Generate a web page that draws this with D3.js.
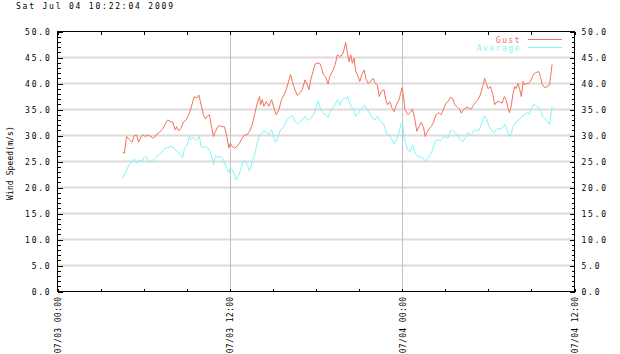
<!DOCTYPE html>
<html><head><meta charset="utf-8">
<script src="https://cdn.jsdelivr.net/npm/d3@7/dist/d3.min.js"></script>
<style>body{margin:0;background:#fff}svg{display:block}</style>
</head><body><svg id="c" width="620" height="354"></svg>
<script>
const chartTitle = "Sat Jul 04 10:22:04 2009";
const yAxisLabel = "Wind Speed(m/s)";
const seriesNames = ["Gust", "Average"];
const seriesColors = ["#f6705c", "#80f6f6"];
const yTickValues = [0, 5, 10, 15, 20, 25, 30, 35, 40, 45, 50];
const xTickHours = [0, 12, 24, 36];

// hours after 07/03 00:00
const gustHours = [4.53,4.65,4.81,5.00,5.19,5.35,5.51,5.65,5.81,5.98,6.12,6.28,6.51,6.67,6.86,7.09,7.33,7.51,7.67,7.84,8.02,8.19,8.30,8.44,8.60,8.77,8.95,9.14,9.30,9.42,9.54,9.70,9.84,10.00,10.16,10.30,10.47,10.58,10.70,10.86,11.00,11.16,11.28,11.47,11.63,11.79,11.93,12.02,12.16,12.33,12.49,12.67,12.86,13.02,13.19,13.37,13.56,13.72,13.88,14.07,
14.14,14.26,14.37,14.53,14.72,14.91,15.07,15.23,15.42,15.60,15.77,15.93,16.12,16.23,16.35,16.53,16.70,16.86,17.05,17.23,17.40,17.51,17.63,17.79,17.93,18.09,18.26,18.40,18.51,18.67,18.84,18.95,19.14,19.33,19.49,19.65,19.84,19.95,20.07,20.19,20.30,20.42,20.53,20.65,20.77,20.88,21.05,21.19,21.35,21.47,21.63,21.81,21.98,22.12,22.28,22.40,22.56,22.74,22.86,22.98,23.14,23.33,23.44,23.60,23.79,23.98,24.07,24.19,
24.40,24.56,24.72,24.86,25.02,25.19,25.33,25.49,25.60,25.72,25.88,26.02,26.19,26.35,26.54,26.72,26.88,27.05,27.19,27.35,27.51,27.65,27.81,27.98,28.12,28.28,28.44,28.58,28.74,28.86,28.98,29.14,29.28,29.44,29.60,29.74,29.86,29.98,30.14,30.30,30.44,30.60,30.77,30.95,31.12,31.23,31.37,31.47,31.61,31.70,31.84,31.93,32.07,32.19,32.30,32.42,32.53,32.63,32.77,32.93,33.05,33.16,33.33,33.51,33.63,33.74,33.93,34.09,34.26,34.35,34.44];
const gustValues = [26.8,26.6,29.8,29.2,28.7,30.0,30.1,28.7,29.8,30.1,29.8,30.1,29.8,29.4,30.1,30.6,31.3,32.2,33.0,32.7,32.6,31.1,31.7,30.9,31.4,32.6,33.0,34.0,35.3,36.5,37.5,37.2,37.8,35.9,34.0,33.2,33.8,34.0,32.1,29.8,30.8,31.7,31.9,31.7,31.7,29.8,27.6,28.5,27.9,27.6,27.9,28.5,29.5,30.1,30.1,30.8,32.1,34.0,35.9,37.5,
35.9,36.9,35.6,36.5,35.6,36.9,35.3,34.0,35.0,36.9,37.8,38.8,40.7,41.7,40.4,38.8,37.7,38.1,38.8,40.7,39.7,38.8,40.7,42.3,43.7,43.9,43.9,42.9,41.7,41.3,39.9,41.3,42.3,43.6,45.5,45.2,45.5,46.5,47.9,45.8,44.2,45.5,43.9,44.9,42.3,41.7,40.4,41.7,42.6,41.0,40.0,40.4,41.0,40.0,39.7,37.5,38.5,38.8,36.9,35.9,36.5,35.0,34.6,35.9,36.9,39.2,38.1,35.0,
34.0,34.4,35.1,33.5,30.8,31.8,32.5,31.5,29.8,30.6,31.3,31.7,32.6,34.0,34.4,34.0,35.1,36.2,36.5,37.3,37.2,35.9,35.6,35.1,34.3,35.0,35.3,35.4,35.0,35.3,35.9,36.5,36.9,37.8,39.4,41.0,40.0,39.0,39.4,38.1,35.9,36.5,36.5,36.2,37.5,36.9,35.3,34.4,35.9,37.8,39.4,39.0,40.0,38.8,37.5,40.4,39.7,40.0,40.0,40.4,41.2,41.8,42.1,42.3,41.3,39.9,39.2,39.4,39.7,41.7,43.7];

const avgHours = [4.49,4.65,4.81,5.00,5.19,5.35,5.51,5.70,5.88,6.05,6.21,6.35,6.51,6.67,6.86,7.04,7.21,7.37,7.56,7.74,7.91,8.07,8.21,8.37,8.53,8.72,8.84,9.00,9.19,9.30,9.47,9.61,9.77,9.88,10.00,10.16,10.30,10.47,10.63,10.77,10.86,11.00,11.16,11.33,11.51,11.63,11.79,11.93,12.02,12.16,12.33,12.44,12.63,12.79,12.95,13.09,13.26,13.37,13.56,13.72,13.88,14.07,
14.21,14.37,14.53,14.72,14.91,15.07,15.19,15.37,15.53,15.70,15.88,16.07,16.23,16.40,16.53,16.70,16.86,17.05,17.23,17.40,17.56,17.74,17.86,18.02,18.16,18.33,18.49,18.67,18.84,18.95,19.14,19.33,19.49,19.65,19.79,19.95,20.12,20.21,20.30,20.49,20.65,20.77,20.95,21.12,21.28,21.42,21.58,21.74,21.93,22.12,22.28,22.44,22.58,22.74,22.91,23.09,23.28,23.44,23.60,23.74,23.91,24.02,24.16,
24.40,24.56,24.72,24.91,25.09,25.26,25.42,25.60,25.79,25.95,26.12,26.30,26.49,26.65,26.81,27.00,27.19,27.35,27.51,27.70,27.88,28.05,28.21,28.40,28.58,28.74,28.91,29.05,29.21,29.37,29.51,29.67,29.79,29.91,30.07,30.21,30.37,30.54,30.67,30.84,31.00,31.14,31.30,31.47,31.61,31.70,31.84,32.00,32.16,32.35,32.53,32.70,32.86,33.00,33.16,33.33,33.51,33.65,33.79,33.93,34.09,34.26,34.35,34.44];
const avgValues = [21.8,22.4,23.4,24.4,25.0,25.5,24.7,25.3,25.1,26.0,25.8,24.7,25.1,25.3,25.8,26.3,26.6,27.2,27.6,27.7,27.9,27.7,27.2,26.9,26.4,25.8,27.6,27.9,29.8,29.2,29.6,29.0,29.5,29.8,27.9,27.7,27.9,27.6,26.9,25.6,24.4,26.0,25.8,26.0,25.6,24.7,23.6,22.8,23.8,23.4,22.4,21.5,22.4,23.8,25.1,25.1,24.0,23.1,25.0,26.3,28.2,30.1,
30.4,30.9,30.6,30.1,31.1,29.5,28.7,29.8,31.1,31.5,32.4,33.3,33.7,33.7,32.8,32.2,32.6,33.0,33.7,33.0,33.0,33.7,34.3,35.6,36.7,34.9,34.3,34.0,33.5,34.3,35.3,35.9,36.9,35.8,36.7,37.2,37.1,37.5,36.5,35.4,34.9,33.7,34.3,35.1,35.6,35.8,34.9,34.3,33.3,33.0,33.7,33.0,32.4,32.1,30.3,30.1,29.2,28.3,29.2,30.1,32.1,32.6,29.2,
27.2,26.9,28.2,26.6,26.0,25.8,25.8,25.1,25.6,26.3,27.2,29.0,29.2,29.0,29.6,29.8,29.5,30.8,31.1,30.5,30.1,29.2,28.8,29.5,30.6,30.0,30.5,31.1,30.9,31.1,32.1,33.5,33.7,32.8,31.7,31.1,30.5,31.1,31.3,31.3,31.5,32.1,31.1,29.8,30.5,31.7,32.2,32.8,33.0,33.7,34.0,34.4,34.0,35.1,36.0,35.7,35.4,34.6,33.7,33.3,32.8,32.1,33.7,35.6];

const FONT = "'DejaVu Sans Mono', monospace";
const svg = d3.select("#c");
const base = new Date(2009, 6, 3, 0, 0, 0);
const toDate = h => new Date(base.getTime() + h * 3600000);

const L = 57.5, R = 574.5, T = 31.5, B = 291.5;
const x = d3.scaleTime().domain([toDate(0), toDate(36)]).range([L, R]);
const y = d3.scaleLinear().domain([0, 50]).range([B, T]);

// horizontal grid
svg.append("g").selectAll("line").data(yTickValues.filter(v => v > 0 && v < 50)).join("line")
  .attr("x1", L).attr("x2", R).attr("y1", d => y(d)).attr("y2", d => y(d))
  .attr("stroke", "#dedada").attr("stroke-width", 2);
// vertical grid
svg.append("g").selectAll("line").data(xTickHours.filter(h => h > 0 && h < 36)).join("line")
  .attr("x1", d => Math.round(x(toDate(d))) + 0.5).attr("x2", d => Math.round(x(toDate(d))) + 0.5)
  .attr("y1", T).attr("y2", B).attr("stroke", "#c4c0c0").attr("stroke-width", 1);

// series
const line = d3.line().x(d => x(toDate(d[0]))).y(d => y(d[1]));
const gust = gustHours.map((h, i) => [h, gustValues[i]]);
const avg = avgHours.map((h, i) => [h, avgValues[i]]);
svg.append("path").datum(avg).attr("d", line).attr("fill", "none")
  .attr("stroke", seriesColors[1]).attr("stroke-width", 1);
svg.append("path").datum(gust).attr("d", line).attr("fill", "none")
  .attr("stroke", seriesColors[0]).attr("stroke-width", 1);

// axes
const minorY = d3.range(0, 51, 1);
const minorX = d3.range(0, 37, 3).map(toDate);
function styleAxis(g) {
  g.select(".domain").remove();
  g.selectAll(".tick line").attr("stroke", "#000").attr("shape-rendering", "crispEdges");
  g.selectAll("text").attr("font-family", FONT).attr("fill", "#000");
}
const tickText = g => g.selectAll("text").attr("font-size", 8).attr("letter-spacing", 1.8).attr("dy", "0.35em");
// left
svg.append("g").attr("transform", `translate(${L},0)`)
  .call(d3.axisLeft(y).tickValues(minorY).tickSize(-3).tickFormat("")).call(styleAxis);
svg.append("g").attr("transform", `translate(${L},0)`)
  .call(d3.axisLeft(y).tickValues(yTickValues).tickSize(-5).tickPadding(6).tickFormat(d3.format(".1f")))
  .call(styleAxis).call(tickText);
// right
svg.append("g").attr("transform", `translate(${R},0)`)
  .call(d3.axisRight(y).tickValues(minorY).tickSize(-3).tickFormat("")).call(styleAxis);
svg.append("g").attr("transform", `translate(${R},0)`)
  .call(d3.axisRight(y).tickValues(yTickValues).tickSize(-5).tickPadding(7).tickFormat(d3.format(".1f")))
  .call(styleAxis).call(tickText);
// top
svg.append("g").attr("transform", `translate(0,${T})`)
  .call(d3.axisTop(x).tickValues(minorX).tickSize(-3).tickFormat("")).call(styleAxis);
// bottom
svg.append("g").attr("transform", `translate(0,${B})`)
  .call(d3.axisBottom(x).tickValues(minorX).tickSize(-3).tickFormat("")).call(styleAxis);
const fmt = d3.timeFormat("%m/%d %H:%M");
svg.append("g").attr("transform", `translate(0,${B})`)
  .call(d3.axisBottom(x).tickValues(xTickHours.map(toDate)).tickSize(0).tickFormat(fmt))
  .call(styleAxis)
  .call(g => g.selectAll("text")
    .attr("font-size", 8).attr("letter-spacing", 0.35)
    .attr("text-anchor", "end").attr("y", 0).attr("dy", 0)
    .attr("transform", "translate(3,5) rotate(-90)"));

// frame
svg.append("rect").attr("x", L).attr("y", T).attr("width", R - L).attr("height", B - T)
  .attr("fill", "none").attr("stroke", "#000").attr("stroke-width", 1).attr("shape-rendering", "crispEdges");

// title
svg.append("text").attr("x", 16).attr("y", 9).text(chartTitle)
  .attr("font-family", FONT).attr("font-size", 8).attr("letter-spacing", 1.8).attr("fill", "#000");
// y label
svg.append("text").attr("transform", "translate(13,163) rotate(-90)").attr("text-anchor", "middle")
  .text(yAxisLabel).attr("font-family", FONT).attr("font-size", 8).attr("letter-spacing", 0.1).attr("fill", "#000");

// legend
const lg = svg.append("g");
seriesNames.forEach((name, i) => {
  const ly = 39.5 + i * 8;
  lg.append("text").attr("x", 521).attr("y", ly + 3).attr("text-anchor", "end")
    .attr("font-family", FONT).attr("font-size", 8).attr("letter-spacing", 1.5)
    .attr("fill", seriesColors[i]).text(name);
  lg.append("line").attr("x1", 528).attr("x2", 562).attr("y1", ly).attr("y2", ly)
    .attr("stroke", seriesColors[i]).attr("stroke-width", 1);
});
</script></body></html>
